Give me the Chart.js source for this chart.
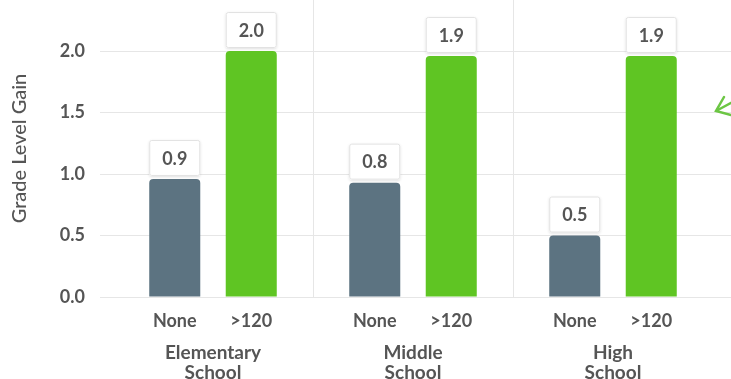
<!DOCTYPE html>
<html>
<head>
<meta charset="utf-8">
<script src="https://cdn.jsdelivr.net/npm/chart.js@4"></script>
<style>
  html, body { margin: 0; padding: 0; background: #fff; overflow: hidden; }
  .wrap { width: 731px; height: 379px; position: relative; }
</style>
</head>
<body>
<div class="wrap"><canvas id="gainChart"></canvas></div>
<script>
// Data
const schools = [['Elementary', 'School'], ['Middle', 'School'], ['High', 'School']];
const seriesNames = ['None', '>120'];
const noneValues = [0.96, 0.93, 0.5];
const over120Values = [2.0, 1.96, 1.96];
const noneLabels = ['0.9', '0.8', '0.5'];
const over120Labels = ['2.0', '1.9', '1.9'];
const yTicks = [0, 0.5, 1.0, 1.5, 2.0];

const textColor = '#555555';
const gridColor = '#e6e6e6';
const fontFamily = 'Lato, "Open Sans", sans-serif';

// value boxes above bars + series name under each bar
const barLabels = {
  id: 'barLabels',
  afterDatasetsDraw(chart) {
    const ctx = chart.ctx;
    const labelSets = [noneLabels, over120Labels];
    chart.data.datasets.forEach((ds, i) => {
      const meta = chart.getDatasetMeta(i);
      meta.data.forEach((bar, j) => {
        const { x, y, width } = bar.getProps(['x', 'y', 'width'], true);
        const boxH = 36;
        const left = x - width / 2;
        const top = y - 3 - boxH;

        ctx.save();
        ctx.shadowColor = 'rgba(0,0,0,0.13)';
        ctx.shadowBlur = 3;
        ctx.shadowOffsetY = 1;
        ctx.fillStyle = '#fff';
        ctx.beginPath();
        ctx.roundRect(left, top, width, boxH, 2);
        ctx.fill();
        ctx.restore();

        ctx.save();
        ctx.strokeStyle = '#e2e2e2';
        ctx.lineWidth = 1;
        ctx.beginPath();
        ctx.roundRect(left + 0.5, top + 0.5, width - 1, boxH - 1, 2);
        ctx.stroke();

        ctx.fillStyle = textColor;
        ctx.font = 'bold 18px ' + fontFamily;
        ctx.textAlign = 'center';
        ctx.textBaseline = 'middle';
        ctx.fillText(labelSets[i][j], x, top + boxH / 2 + 1);

        ctx.fillText(ds.label, x, chart.chartArea.bottom + 24);
        ctx.restore();
      });
    });
  },
  afterDraw(chart) {
    // little hand-drawn green arrow at the right edge
    const ctx = chart.ctx;
    ctx.save();
    ctx.strokeStyle = '#6cc644';
    ctx.lineWidth = 2.5;
    ctx.lineCap = 'round';
    ctx.beginPath();
    ctx.moveTo(724, 97);
    ctx.lineTo(716, 111);
    ctx.lineTo(731, 115);
    ctx.moveTo(716, 111);
    ctx.lineTo(740, 98);
    ctx.stroke();
    ctx.restore();
  }
};

const noVerticalPadding = (scale) => {
  scale.paddingTop = 0;
  scale.paddingBottom = 0;
};

new Chart(document.getElementById('gainChart'), {
  type: 'bar',
  data: {
    labels: schools,
    datasets: [
      {
        label: seriesNames[0],
        data: noneValues,
        backgroundColor: '#5c7381'
      },
      {
        label: seriesNames[1],
        data: over120Values,
        backgroundColor: '#5fc523'
      }
    ]
  },
  options: {
    responsive: true,
    maintainAspectRatio: false,
    animation: false,
    layout: { padding: 0 },
    datasets: {
      bar: {
        categoryPercentage: 0.765,
        barPercentage: 0.667,
        borderRadius: { topLeft: 4, topRight: 4 },
        borderSkipped: 'start'
      }
    },
    plugins: {
      legend: { display: false },
      tooltip: { enabled: false }
    },
    scales: {
      x: {
        offset: true,
        border: { display: false },
        grid: {
          offset: true,
          drawTicks: false,
          // hide the outer boundary lines, keep the ones between schools
          color: (c) => (c.type !== 'tick' || c.index === 0 ? 'rgba(0,0,0,0)' : gridColor)
        },
        ticks: {
          padding: 46,
          color: textColor,
          font: { family: fontFamily, size: 19, weight: 'bold', lineHeight: 1.06 }
        },
        afterFit: (scale) => {
          scale.height = 82;
          scale.paddingLeft = 0;
          scale.paddingRight = 0;
        }
      },
      y: {
        min: 0,
        max: 2.415,
        border: { display: false },
        grid: { color: gridColor, tickLength: 13, tickColor: gridColor },
        afterBuildTicks: (scale) => { scale.ticks = yTicks.map((v) => ({ value: v })); },
        ticks: {
          padding: 15,
          color: textColor,
          font: { family: fontFamily, size: 18, weight: 'bold' },
          callback: (v) => Number(v).toFixed(1)
        },
        title: {
          display: true,
          text: 'Grade Level Gain',
          color: textColor,
          padding: { top: 8, bottom: 0 },
          font: { family: fontFamily, size: 20, weight: 500 }
        },
        afterFit: (scale) => {
          scale.width = 113;
          noVerticalPadding(scale);
        }
      },
      yRight: {
        position: 'right',
        min: 0,
        max: 2.415,
        border: { display: false },
        grid: { drawOnChartArea: false, color: gridColor, tickLength: 18 },
        afterBuildTicks: (scale) => { scale.ticks = yTicks.map((v) => ({ value: v })); },
        ticks: { display: false },
        afterFit: (scale) => {
          scale.width = 18;
          noVerticalPadding(scale);
        }
      }
    }
  },
  plugins: [barLabels]
});
</script>
</body>
</html>
